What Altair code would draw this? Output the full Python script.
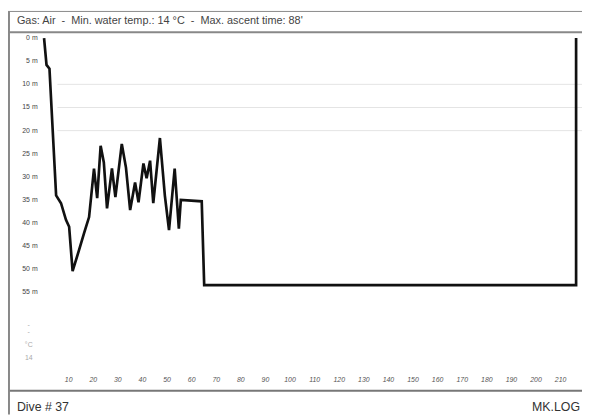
import altair as alt
import pandas as pd

# ---- data ----
time_min = [0, 1.0, 2.2, 4.9, 6.9, 8.9, 10.2, 11.6, 14.3, 16.3, 18.3, 20.3, 21.6, 23.0,
            24.3, 25.6, 27.6, 29.0, 31.6, 33.3, 35.0, 37.0, 38.4, 40.4, 41.7, 43.1,
            44.4, 47.1, 49.1, 50.8, 53.1, 54.8, 55.6, 64.1, 65.1, 216.3, 216.3]
depth_m = [0, 5.8, 6.6, 34.0, 35.7, 39.3, 40.8, 50.4, 45.7, 42.1, 38.7, 28.2, 34.6, 23.3,
           26.9, 36.8, 28.2, 34.4, 22.9, 28.0, 37.2, 31.2, 35.5, 27.1, 30.3, 26.5,
           35.7, 21.6, 34.0, 41.5, 28.2, 41.2, 35.0, 35.3, 53.4, 53.4, 0]

depth_ticks = [0, 5, 10, 15, 20, 25, 30, 35, 40, 45, 50, 55]
time_ticks = [10, 20, 30, 40, 50, 60, 70, 80, 90, 100, 110, 120, 130, 140, 150,
              160, 170, 180, 190, 200, 210]
grid_depths = [10, 15, 20]

SEP = "\u00a0\u00a0-\u00a0\u00a0"
header_text = "Gas: Air" + SEP + "Min. water temp.: 14 °C" + SEP + "Max. ascent time: 88'"
footer_left = "Dive # 37"
footer_right = "MK.LOG"
temp_labels = ["-", "-", "°C", "14"]

W, H = 581, 409
FONT = "Liberation Sans"

profile = pd.DataFrame({"i": range(len(time_min)), "time": time_min, "depth": depth_m})
ydf = pd.DataFrame({"depth": depth_ticks, "label": [f"{d} m" for d in depth_ticks]})
xdf = pd.DataFrame({"time": time_ticks, "label": [str(t) for t in time_ticks]})
gdf = pd.DataFrame({"depth": grid_depths})
tdf = pd.DataFrame({"label": temp_labels, "py": [318, 325, 339, 352]})
one = pd.DataFrame({"k": [0]})

xs = alt.Scale(domain=[-14.66, 218.7], nice=False, zero=False)
ys = alt.Scale(domain=[-5.98, 81.4], nice=False, zero=False, reverse=True)

grid = alt.Chart(gdf).mark_rule(color="#e4e4e4", strokeWidth=1).encode(
    y=alt.Y("depth:Q", scale=ys, axis=None),
    x=alt.value(50), x2=alt.value(W),
)

line = alt.Chart(profile).mark_line(color="#111111", strokeWidth=2.7, strokeJoin="miter").encode(
    x=alt.X("time:Q", scale=xs, axis=None),
    y=alt.Y("depth:Q", scale=ys, axis=None),
    order=alt.Order("i:Q"),
)

ylab = alt.Chart(ydf).mark_text(align="right", baseline="middle", fontSize=7,
                                font=FONT, color="#444444").encode(
    y=alt.Y("depth:Q", scale=ys, axis=None),
    x=alt.value(30),
    text="label:N",
)

xlab = alt.Chart(xdf).mark_text(align="center", baseline="middle", fontSize=7,
                                font=FONT, color="#555555", fontStyle="italic").encode(
    x=alt.X("time:Q", scale=xs, axis=None),
    y=alt.value(374),
    text="label:N",
)

tlab = alt.Chart(tdf).mark_text(align="center", baseline="middle", fontSize=7,
                                font=FONT, color="#aaaaaa").encode(
    x=alt.value(21),
    y=alt.Y("py:Q", scale=None),
    text="label:N",
)

header = alt.Chart(one).mark_text(align="left", baseline="middle", fontSize=11,
                                  font=FONT, color="#444444").encode(
    x=alt.value(9), y=alt.value(11), text=alt.value(header_text))

fl = alt.Chart(one).mark_text(align="left", baseline="middle", fontSize=12.5,
                              font=FONT, color="#333333").encode(
    x=alt.value(9), y=alt.value(401), text=alt.value(footer_left))

fr = alt.Chart(one).mark_text(align="right", baseline="middle", fontSize=12.5,
                              font=FONT, color="#333333").encode(
    x=alt.value(W - 2), y=alt.value(401), text=alt.value(footer_right))

frame_top = alt.Chart(one).mark_rule(color="#888888", strokeWidth=1).encode(
    x=alt.value(0), x2=alt.value(W), y=alt.value(1))
frame_sep = alt.Chart(one).mark_rule(color="#888888", strokeWidth=2).encode(
    x=alt.value(0), x2=alt.value(W), y=alt.value(22))
frame_bot = alt.Chart(one).mark_rule(color="#777777", strokeWidth=2).encode(
    x=alt.value(0), x2=alt.value(W), y=alt.value(385))
frame_left = alt.Chart(one).mark_rule(color="#888888", strokeWidth=2).encode(
    x=alt.value(1), y=alt.value(1), y2=alt.value(H))

chart = alt.layer(
    grid, line, ylab, xlab, tlab, header, fl, fr,
    frame_top, frame_sep, frame_bot, frame_left,
).properties(
    width=W, height=H, padding=0,
    autosize=alt.AutoSizeParams(type="none"),
    background="white",
).configure_view(stroke=None)

chart.save("out.html", embed_options={"renderer": "svg", "actions": False})
